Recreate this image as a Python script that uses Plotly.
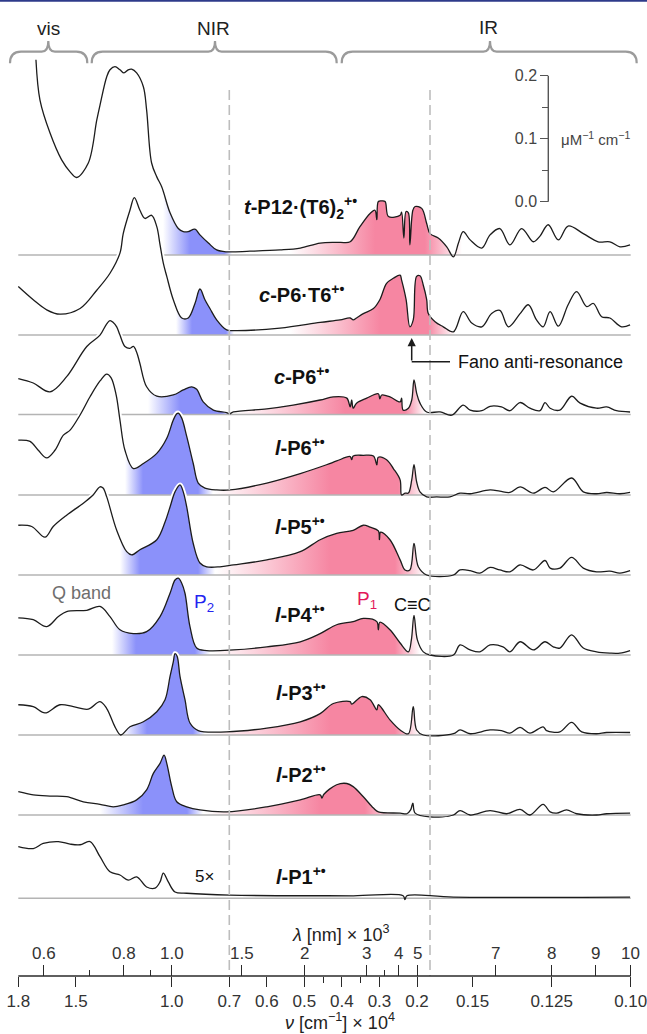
import numpy as np
import plotly.graph_objects as go

# ======================= DATA =======================
# wavenumber nu in 10^4 cm^-1 ; extinction coefficient in uM^-1 cm^-1
LABELS = [
    "<b><i>t</i>-P12·(T6)<sub>2</sub><sup>+•</sup></b>",
    "<b><i>c</i>-P6·T6<sup>+•</sup></b>",
    "<b><i>c</i>-P6<sup>+•</sup></b>",
    "<b><i>l</i>-P6<sup>+•</sup></b>",
    "<b><i>l</i>-P5<sup>+•</sup></b>",
    "<b><i>l</i>-P4<sup>+•</sup></b>",
    "<b><i>l</i>-P3<sup>+•</sup></b>",
    "<b><i>l</i>-P2<sup>+•</sup></b>",
    "<b><i>l</i>-P1<sup>+•</sup></b>",
]

tP12_nu = [1.708, 1.687, 1.635, 1.574, 1.530, 1.496, 1.435, 1.391, 1.374, 1.339, 1.322, 1.296, 1.270, 1.249, 1.227,
           1.209, 1.183, 1.148, 1.131, 1.105, 1.078, 1.052, 1.009, 0.966, 0.940, 0.914, 0.879, 0.853, 0.809, 0.766,
           0.714, 0.645, 0.565, 0.511, 0.458, 0.405, 0.378, 0.352, 0.325, 0.312, 0.307, 0.303, 0.294, 0.285, 0.276,
           0.245, 0.241, 0.235, 0.229, 0.223, 0.219, 0.211, 0.205, 0.1868, 0.1728, 0.1635, 0.1609, 0.1582, 0.1561,
           0.1545, 0.1530, 0.1508, 0.1471, 0.1445, 0.1414, 0.1382, 0.1345, 0.1308, 0.1287, 0.1261, 0.1229, 0.1198,
           0.1150, 0.1103, 0.1066, 0.1034, 0.1002]
tP12_eps = [0.310, 0.246, 0.194, 0.151, 0.132, 0.123, 0.146, 0.214, 0.238, 0.283, 0.294, 0.299, 0.294, 0.289, 0.294,
            0.295, 0.289, 0.267, 0.230, 0.146, 0.124, 0.108, 0.067, 0.042, 0.037, 0.037, 0.041, 0.032, 0.019, 0.008,
            0.005, 0.006, 0.008, 0.011, 0.019, 0.020, 0.021, 0.045, 0.066, 0.071, 0.056, 0.085, 0.086, 0.085, 0.061,
            0.063, 0.068, 0.027, 0.069, 0.067, 0.016, 0.071, 0.077, 0.074, 0.050, 0.034, 0.027, 0.013, -0.003,
            0.019, 0.037, 0.024, 0.011, 0.032, 0.042, 0.016, 0.042, 0.021, 0.030, 0.048, 0.024, 0.046,
            0.034, 0.021, 0.021, 0.013, 0.016]

cP6T6_nu = [1.800, 1.722, 1.652, 1.583, 1.478, 1.391, 1.322, 1.270, 1.253, 1.218, 1.195, 1.166, 1.139, 1.105, 1.078,
            1.061, 1.044, 1.026, 0.992, 0.948, 0.914, 0.879, 0.853, 0.827, 0.801, 0.766, 0.714, 0.689, 0.565, 0.458,
            0.405, 0.378, 0.370, 0.361, 0.343, 0.316, 0.299, 0.281, 0.263, 0.245, 0.241, 0.229, 0.219, 0.210, 0.201,
            0.1916, 0.1823, 0.1728, 0.1683, 0.1619, 0.1593, 0.1561, 0.1530, 0.1503, 0.1471, 0.1440, 0.1414, 0.1387,
            0.1350, 0.1324, 0.1298, 0.1277, 0.1255, 0.1229, 0.1198, 0.1171, 0.1139, 0.1118, 0.1092, 0.1066, 0.1029,
            0.1002]
cP6T6_eps = [0.077, 0.056, 0.040, 0.033, 0.042, 0.071, 0.098, 0.130, 0.161, 0.198, 0.218, 0.198, 0.185, 0.190, 0.172,
             0.143, 0.114, 0.093, 0.056, 0.027, 0.027, 0.050, 0.073, 0.056, 0.042, 0.024, 0.008, 0.007, 0.011, 0.020,
             0.024, 0.027, 0.024, 0.027, 0.034, 0.042, 0.056, 0.082, 0.090, 0.095, 0.087, 0.056, 0.013, 0.024, 0.093,
             0.094, 0.079, 0.056, 0.034, 0.021, 0.013, 0.005, 0.037, 0.019, 0.013, 0.034, 0.039, 0.013,
             0.034, 0.048, 0.024, 0.013, 0.037, 0.014, 0.048, 0.069, 0.045, 0.050, 0.029, 0.027, 0.013,
             0.016]

cP6_nu = [1.800, 1.722, 1.635, 1.548, 1.443, 1.374, 1.339, 1.322, 1.305, 1.287, 1.270, 1.244, 1.218, 1.200, 1.183,
          1.166, 1.131, 1.078, 0.992, 0.940, 0.896, 0.870, 0.836, 0.783, 0.714, 0.700, 0.689, 0.600, 0.530, 0.458,
          0.423, 0.387, 0.378, 0.374, 0.370, 0.361, 0.334, 0.303, 0.299, 0.294, 0.272, 0.245, 0.241, 0.237, 0.223,
          0.214, 0.208, 0.201, 0.1916, 0.1728, 0.1603, 0.1566, 0.1530, 0.1508, 0.1471, 0.1445, 0.1409, 0.1382,
          0.1350, 0.1319, 0.1287, 0.1271, 0.1255, 0.1224, 0.1187, 0.1160, 0.1108, 0.1076, 0.1045, 0.1002]
cP6_eps = [0.057, 0.050, 0.036, 0.060, 0.108, 0.126, 0.144, 0.149, 0.146, 0.139, 0.126, 0.108, 0.105, 0.108, 0.099,
           0.081, 0.044, 0.029, 0.031, 0.039, 0.044, 0.040, 0.020, 0.007, 0.003, 0.001, 0.004, 0.009, 0.015, 0.023,
           0.028, 0.026, 0.012, 0.023, 0.010, 0.018, 0.026, 0.033, 0.025, 0.031, 0.028, 0.020, 0.026, 0.007, 0.010,
           0.023, 0.055, 0.034, 0.018, 0.004, 0.004, -0.001, 0.015, 0.007, 0.006, 0.013, 0.012, 0.006,
           0.019, 0.010, 0.006, 0.019, 0.010, 0.007, 0.029, 0.018, 0.010, 0.012, 0.006, 0.004]

lP6_nu = [1.800, 1.739, 1.696, 1.652, 1.609, 1.565, 1.530, 1.478, 1.426, 1.374, 1.339, 1.316, 1.290, 1.270, 1.244,
          1.200, 1.148, 1.078, 1.026, 0.992, 0.974, 0.966, 0.948, 0.922, 0.888, 0.862, 0.827, 0.766, 0.698, 0.600,
          0.511, 0.441, 0.414, 0.378, 0.374, 0.370, 0.343, 0.316, 0.307, 0.303, 0.281, 0.263, 0.245, 0.241, 0.232,
          0.223, 0.214, 0.208, 0.201, 0.1916, 0.1728, 0.1614, 0.1572, 0.1540, 0.1508, 0.1445, 0.1414, 0.1382,
          0.1350, 0.1308, 0.1271, 0.1245, 0.1187, 0.1150, 0.1108, 0.1076, 0.1034, 0.1002]
lP6_eps = [0.087, 0.085, 0.071, 0.059, 0.071, 0.095, 0.103, 0.127, 0.156, 0.181, 0.192, 0.186, 0.159, 0.119, 0.071,
           0.042, 0.050, 0.066, 0.090, 0.119, 0.129, 0.130, 0.122, 0.093, 0.050, 0.019, 0.011, 0.008, 0.008, 0.019,
           0.034, 0.048, 0.054, 0.061, 0.056, 0.062, 0.063, 0.062, 0.048, 0.060, 0.056, 0.042, 0.024, 0.000, 0.003,
           0.003, 0.024, 0.048, 0.021, 0.005, -0.003, -0.003, -0.003, 0.003, 0.002, 0.008, 0.006, 0.004,
           0.013, 0.003, 0.012, 0.005, 0.027, 0.005, 0.002, 0.004, 0.002, 0.004]

lP5_nu = [1.800, 1.730, 1.661, 1.618, 1.548, 1.461, 1.410, 1.374, 1.358, 1.339, 1.287, 1.235, 1.209, 1.166, 1.078,
          1.035, 1.009, 0.983, 0.957, 0.940, 0.922, 0.888, 0.853, 0.818, 0.749, 0.689, 0.600, 0.511, 0.458, 0.414,
          0.370, 0.343, 0.325, 0.303, 0.300, 0.297, 0.272, 0.245, 0.232, 0.219, 0.208, 0.1963, 0.1728, 0.1561,
          0.1540, 0.1508, 0.1477, 0.1445, 0.1414, 0.1382, 0.1350, 0.1308, 0.1271, 0.1255, 0.1224, 0.1187, 0.1150,
          0.1108, 0.1066, 0.1034, 0.1002]
lP5_eps = [0.079, 0.077, 0.060, 0.077, 0.095, 0.114, 0.127, 0.140, 0.138, 0.124, 0.071, 0.037, 0.032, 0.040, 0.056,
           0.084, 0.108, 0.132, 0.143, 0.132, 0.108, 0.050, 0.019, 0.013, 0.013, 0.016, 0.024, 0.037, 0.056, 0.066,
           0.071, 0.079, 0.076, 0.070, 0.056, 0.068, 0.056, 0.024, 0.008, 0.008, 0.050, 0.013, 0.000, 0.000,
           0.008, 0.007, 0.003, 0.012, 0.008, 0.005, 0.016, 0.008, 0.023, 0.011, 0.011, 0.028, 0.011,
           0.005, 0.006, 0.003, 0.007]

lP4_nu = [1.800, 1.722, 1.652, 1.591, 1.548, 1.443, 1.374, 1.322, 1.270, 1.200, 1.131, 1.061, 1.009, 0.983, 0.966,
          0.948, 0.931, 0.905, 0.870, 0.818, 0.689, 0.600, 0.511, 0.458, 0.414, 0.370, 0.343, 0.307, 0.303, 0.299,
          0.272, 0.245, 0.223, 0.215, 0.208, 0.199, 0.1823, 0.1635, 0.1561, 0.1540, 0.1508, 0.1477, 0.1445, 0.1404,
          0.1382, 0.1350, 0.1308, 0.1271, 0.1245, 0.1224, 0.1187, 0.1150, 0.1108, 0.1066, 0.1034, 0.1002]
lP4_eps = [0.059, 0.056, 0.045, 0.061, 0.069, 0.071, 0.077, 0.061, 0.040, 0.034, 0.037, 0.061, 0.098, 0.119, 0.122,
           0.114, 0.098, 0.045, 0.011, 0.007, 0.008, 0.013, 0.021, 0.034, 0.048, 0.053, 0.058, 0.053, 0.040, 0.052,
           0.040, 0.019, 0.005, 0.024, 0.063, 0.024, 0.005, 0.000, 0.000, 0.016, 0.008, 0.005, 0.016, 0.013,
           0.005, 0.021, 0.008, 0.021, 0.013, 0.011, 0.032, 0.011, 0.005, 0.003, 0.003, 0.007]

lP3_nu = [1.800, 1.722, 1.661, 1.583, 1.513, 1.435, 1.374, 1.339, 1.296, 1.266, 1.218, 1.148, 1.078, 1.035, 1.009,
          0.992, 0.983, 0.972, 0.957, 0.931, 0.905, 0.862, 0.714, 0.600, 0.511, 0.458, 0.423, 0.378, 0.374, 0.347,
          0.325, 0.307, 0.303, 0.272, 0.245, 0.223, 0.210, 0.201, 0.1823, 0.1561, 0.1540, 0.1508, 0.1445, 0.1409,
          0.1382, 0.1350, 0.1319, 0.1277, 0.1266, 0.1224, 0.1187, 0.1155, 0.1108, 0.1076, 0.1002]
lP3_eps = [0.048, 0.045, 0.035, 0.048, 0.045, 0.041, 0.053, 0.042, 0.013, 0.000, 0.013, 0.021, 0.037, 0.056, 0.093,
           0.116, 0.129, 0.125, 0.093, 0.056, 0.019, 0.007, 0.005, 0.011, 0.021, 0.034, 0.050, 0.053, 0.049, 0.061,
           0.056, 0.040, 0.048, 0.024, 0.008, 0.002, 0.045, 0.008, 0.000, 0.002, 0.008, 0.002, 0.008, 0.007,
           0.003, 0.012, 0.003, 0.013, 0.007, 0.005, 0.020, 0.005, 0.002, 0.004, 0.004]

lP2_nu = [1.800, 1.722, 1.635, 1.548, 1.461, 1.374, 1.305, 1.253, 1.183, 1.131, 1.096, 1.061, 1.040, 1.026, 1.000,
          0.974, 0.922, 0.853, 0.714, 0.600, 0.511, 0.458, 0.453, 0.448, 0.414, 0.387, 0.370, 0.343, 0.316, 0.303,
          0.245, 0.227, 0.217, 0.211, 0.205, 0.1635, 0.1561, 0.1540, 0.1508, 0.1445, 0.1392, 0.1350, 0.1319, 0.1277,
          0.1255, 0.1234, 0.1203, 0.1171, 0.1108, 0.1076, 0.1002]
lP2_eps = [0.037, 0.032, 0.030, 0.029, 0.021, 0.017, 0.013, 0.016, 0.024, 0.040, 0.066, 0.082, 0.095, 0.082, 0.045,
           0.021, 0.013, 0.008, 0.005, 0.013, 0.024, 0.032, 0.027, 0.033, 0.048, 0.050, 0.045, 0.029, 0.011, 0.005,
           0.003, 0.002, 0.008, 0.019, 0.003, -0.003, 0.000, 0.007, 0.000, 0.007, 0.002, 0.009, 0.000, 0.017,
           0.005, 0.003, 0.008, 0.002, 0.000, 0.002, 0.003]

lP1_nu = [1.800, 1.722, 1.670, 1.591, 1.530, 1.478, 1.426, 1.374, 1.322, 1.270, 1.227, 1.183, 1.131, 1.087, 1.061,
          1.044, 1.018, 0.983, 0.922, 0.698, 0.370, 0.237, 0.232, 0.227, 0.1561, 0.1002]
lP1_eps = [0.0164, 0.0158, 0.0174, 0.0180, 0.0172, 0.0170, 0.0180, 0.0132, 0.0084, 0.0074, 0.0058, 0.0068, 0.0036,
           0.0032, 0.0052, 0.0080, 0.0052, 0.0020, 0.0016, 0.0010, 0.0008, 0.0008, -0.0004, 0.0008, 0.0004, 0.0004]

SPECTRA_NU = [tP12_nu, cP6T6_nu, cP6_nu, lP6_nu, lP5_nu, lP4_nu, lP3_nu, lP2_nu, lP1_nu]
SPECTRA_EPS = [tP12_eps, cP6T6_eps, cP6_eps, lP6_eps, lP5_eps, lP4_eps, lP3_eps, lP2_eps, lP1_eps]
MULTIPLIER = [1, 1, 1, 1, 1, 1, 1, 1, 5]

NU_TICKS = [1.8, 1.5, 1.0, 0.7, 0.6, 0.5, 0.4, 0.3, 0.2, 0.15, 0.125, 0.10]
NU_TICK_TEXT = ["1.8", "1.5", "1.0", "0.7", "0.6", "0.5", "0.4", "0.3", "0.2", "0.15", "0.125", "0.10"]
NU_MINOR = [0.45, 0.35]
LAM_TICKS = [0.6, 0.8, 1.0, 1.5, 2, 3, 4, 5, 7, 8, 9, 10]
LAM_TICK_TEXT = ["0.6", "0.8", "1.0", "1.5", "2", "3", "4", "5", "7", "8", "9", "10"]
LAM_MINOR = [0.7, 0.9, 3.5]
SCALE_TICKS = [0.0, 0.1, 0.2]
SCALE_TICK_TEXT = ["0.0", "0.1", "0.2"]
SCALE_MINOR = [0.05, 0.15]

# ======================= LAYOUT / STYLE =======================
W, H = 647, 1034
PLOT_H = 976                 # plot area height (axis line at bottom)
PX_PER_UNIT = 630            # vertical pixels per uM^-1 cm^-1
NU_BREAKS = [1.8, 0.7, 0.2, 0.1635, 0.10]      # broken (piecewise linear) wavenumber axis
U_BREAKS = [18.3, 229.3, 417.0, 430.0, 630.7]
BASE_PX = [255, 335, 414.5, 495, 575, 655, 735, 815, 898.3]
LABEL_POS = [(242, 207), (256.7, 293.5), (271.7, 375), (272.5, 446.7), (272.5, 525), (272.5, 613.3),
             (274, 691.7), (274, 773.3), (274, 875)]
# gradient bands (left white, solid start, solid end, right white), in horizontal plot pixels
BLUE_BANDS = [(163, 190, 224, 232), (176, 192, 226, 234), (148, 180, 222, 232), (125, 143, 198, 213),
              (120, 140, 198, 215), (112, 136, 195, 210), (123, 147, 193, 205), (100, 143, 187, 203), None]
PINK_BANDS = [(290, 375, 425, 462), (290, 380, 428, 455), (235, 345, 405, 425), (214, 330, 398, 425),
              (216, 330, 395, 425), (212, 330, 395, 420), (207, 330, 395, 420), (205, 320, 365, 400), None]

BLUE = "rgb(139,145,250)"
PINK = "rgb(246,134,162)"
WHITE = "rgb(255,255,255)"
INK = "#1c1c1c"
GRAY = "#b4b4b4"
FONT = "Liberation Sans, Arial, Helvetica, sans-serif"
SM = 1.0


def u(nu):
    return np.interp(-np.asarray(nu, float), -np.array(NU_BREAKS), U_BREAKS)


def Y(py):
    return (PLOT_H - py) / PX_PER_UNIT


def px(xu):
    return xu / W


def py_paper(py):
    return 1 - py / PLOT_H


def colorscale(blue, pink):
    stops = [(0, WHITE)]
    for band, col in ((blue, BLUE), (pink, PINK)):
        if band is None:
            continue
        a, b, c, d = band
        stops += [(a, WHITE), (b, col), (c, col), (d, WHITE)]
    stops.append((W, WHITE))
    return [[p / W, col] for p, col in stops]


fig = go.Figure()
x_left, x_right = float(u(NU_BREAKS[0])), float(u(NU_BREAKS[-1]))

for k in range(len(SPECTRA_NU)):
    off = Y(BASE_PX[k])
    xs = u(SPECTRA_NU[k])
    ys = off + MULTIPLIER[k] * np.asarray(SPECTRA_EPS[k])
    # white halo (hides the baseline of the spectrum above)
    fig.add_trace(go.Scatter(x=xs, y=ys, mode="lines", hoverinfo="skip", showlegend=False,
                             line=dict(color=WHITE, width=5, shape="spline", smoothing=SM)))
    # baseline
    fig.add_trace(go.Scatter(x=[x_left, x_right], y=[off, off], mode="lines", hoverinfo="skip",
                             showlegend=False, line=dict(color=GRAY, width=1.5)))
    # spectrum with gradient fill down to its baseline
    fig.add_trace(go.Scatter(x=xs, y=ys, mode="lines", showlegend=False, name="spec%d" % k,
                             line=dict(color=INK, width=1.3, shape="spline", smoothing=SM),
                             fill="tonexty",
                             fillgradient=dict(type="horizontal",
                                               colorscale=colorscale(BLUE_BANDS[k], PINK_BANDS[k]),
                                               start=0, stop=W)))

# dummy traces so the overlay axes are drawn
fig.add_trace(go.Scatter(x=[1], y=[0.5], xaxis="x2", mode="markers", hoverinfo="skip", showlegend=False,
                         marker=dict(size=1, color="rgba(0,0,0,0)")))
fig.add_trace(go.Scatter(x=[1], y=[0.0], yaxis="y2", mode="markers", hoverinfo="skip", showlegend=False,
                         marker=dict(size=1, color="rgba(0,0,0,0)")))

shapes = []
# dashed region separators
for nb in (NU_BREAKS[1], NU_BREAKS[3]):
    shapes.append(dict(type="line", xref="paper", yref="paper", x0=px(u(nb)), x1=px(u(nb)),
                       y0=py_paper(90), y1=0, line=dict(color="#bdbdbd", width=1.6, dash="10px,5px"),
                       layer="above"))
# bottom axis line
shapes.append(dict(type="line", xref="paper", yref="paper", x0=px(x_left), x1=px(x_right), y0=0, y1=0,
                   line=dict(color="#2a2a2a", width=1.3)))
# top rule
shapes.append(dict(type="line", xref="paper", yref="paper", x0=0, x1=1, y0=py_paper(0.8), y1=py_paper(0.8),
                   line=dict(color="#2e3a8a", width=2)))


def brace(x0, xm, x1, pe=63.3, ph=51.7, pt=41.0, r=11.0, t=6.6):
    P = lambda a, b: "%.5f,%.5f" % (px(a), py_paper(b))
    return ("M " + P(x0, pe) + " Q " + P(x0, ph) + " " + P(x0 + r, ph) + " L " + P(xm - t, ph) +
            " Q " + P(xm, ph) + " " + P(xm, pt) + " Q " + P(xm, ph) + " " + P(xm + t, ph) +
            " L " + P(x1 - r, ph) + " Q " + P(x1, ph) + " " + P(x1, pe))


for (a, m, b) in [(10, 48.3, 87.3), (91.7, 215, 336.7), (341.7, 490, 636.7)]:
    shapes.append(dict(type="path", xref="paper", yref="paper", path=brace(a, m, b),
                       line=dict(color="#9b9b9b", width=2.2)))
# scale bar line
shapes.append(dict(type="line", xref="paper", yref="y2", x0=px(548.3), x1=px(548.3), y0=0, y1=0.2,
                   line=dict(color="#555555", width=1.4)))
# Fano pointer horizontal leg
shapes.append(dict(type="line", xref="paper", yref="paper", x0=px(411.7), x1=px(450), y0=py_paper(361.7),
                   y1=py_paper(361.7), line=dict(color=INK, width=1.5)))

annotations = []


def ann(text, x, y, size, color="#111111", xanchor="left", yanchor="middle"):
    annotations.append(dict(text=text, x=px(x), y=py_paper(y), xref="paper", yref="paper",
                            showarrow=False, xanchor=xanchor, yanchor=yanchor,
                            font=dict(family=FONT, size=size, color=color)))


for lab, (lx, ly) in zip(LABELS, LABEL_POS):
    ann(lab, lx, ly, 20)

ann("Q band", 81.5, 593.3, 18, "#6e6e6e", "center")
ann("P<sub>2</sub>", 191.5, 603, 19, "#2424f0")
ann("P<sub>1</sub>", 354.5, 600, 19, "#e3185b")
ann("C≡C", 391.5, 605, 18)
ann("5×", 193, 876.7, 17)
ann("Fano anti-resonance", 456, 361.7, 18)
ann("vis", 48.3, 28.3, 19, "#222222", "center")
ann("NIR", 213.3, 28.3, 19, "#222222", "center")
ann("IR", 488.3, 27.5, 19, "#222222", "center")
ann("μM<sup>−1</sup> cm<sup>−1</sup>", 559, 138.3, 15, "#444444")
ann("<i>λ</i> [nm] × 10<sup>3</sup>", 340, 933, 18, "#222222", "center")
ann("<i>ν</i> [cm<sup>−1</sup>] × 10<sup>4</sup>", 340, 1021.5, 18, "#222222", "center")
for lv, lt in zip(LAM_TICKS, LAM_TICK_TEXT):
    ann(lt, float(u(1.0 / lv)), 953.5, 17, "#333333", "center")

# Fano arrow
annotations.append(dict(x=px(411.7), y=py_paper(338), xref="paper", yref="paper",
                        ax=0, ay=24, text="", showarrow=True, arrowhead=2, arrowsize=1.1,
                        arrowwidth=1.5, arrowcolor=INK))

fig.update_layout(
    width=W, height=H, margin=dict(l=0, r=0, t=0, b=H - PLOT_H),
    plot_bgcolor="white", paper_bgcolor="white", showlegend=False,
    shapes=shapes, annotations=annotations,
    xaxis=dict(range=[0, W], showgrid=False, zeroline=False, showline=False, fixedrange=True,
               tickmode="array", tickvals=list(u(NU_TICKS)), ticktext=NU_TICK_TEXT,
               ticks="outside", ticklen=10, tickwidth=1.3, tickcolor="#2a2a2a",
               ticklabeloverflow="allow",
               tickfont=dict(family=FONT, size=17, color="#333333"),
               minor=dict(tickmode="array", tickvals=list(u(NU_MINOR)), ticks="outside", ticklen=6,
                          tickwidth=1.3, tickcolor="#2a2a2a")),
    xaxis2=dict(range=[0, W], overlaying="x", anchor="y", side="bottom", showgrid=False, zeroline=False,
                showline=False, fixedrange=True, showticklabels=False,
                tickmode="array", tickvals=list(u(1.0 / np.array(LAM_TICKS, float))),
                ticks="inside", ticklen=11, tickwidth=1.3, tickcolor="#2a2a2a",
                minor=dict(tickmode="array", tickvals=list(u(1.0 / np.array(LAM_MINOR, float))),
                           ticks="inside", ticklen=6, tickwidth=1.3, tickcolor="#2a2a2a")),
    yaxis=dict(range=[0, PLOT_H / PX_PER_UNIT], visible=False, fixedrange=True),
    yaxis2=dict(range=[-Y(201.7), PLOT_H / PX_PER_UNIT - Y(201.7)], overlaying="y", anchor="free",
                position=548.3 / W, side="left", showgrid=False, zeroline=False, showline=False,
                fixedrange=True, tickmode="array", tickvals=SCALE_TICKS, ticktext=SCALE_TICK_TEXT,
                ticks="outside", ticklen=8, tickwidth=1.4, tickcolor="#555555",
                tickfont=dict(family=FONT, size=16, color="#444444"),
                minor=dict(tickmode="array", tickvals=SCALE_MINOR, ticks="outside", ticklen=6,
                           tickwidth=1.4, tickcolor="#555555")),
)

fig.write_html("out.html")
